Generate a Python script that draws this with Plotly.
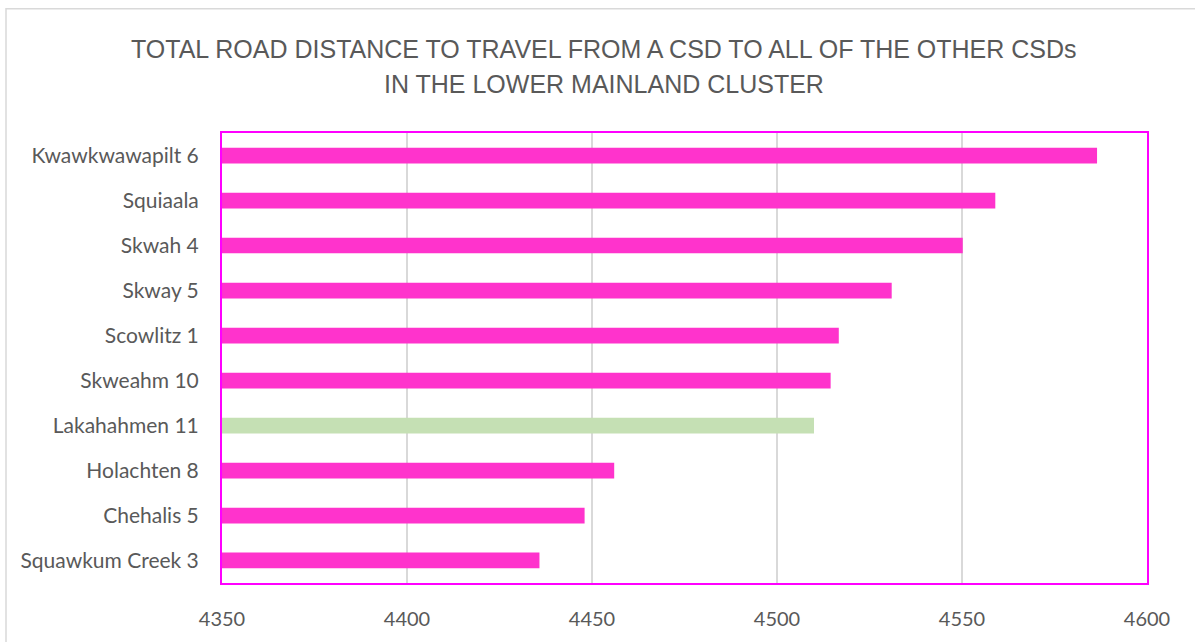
import plotly.graph_objects as go

categories = ["Kwawkwawapilt 6", "Squiaala", "Skwah 4", "Skway 5", "Scowlitz 1",
              "Skweahm 10", "Lakahahmen 11", "Holachten 8", "Chehalis 5", "Squawkum Creek 3"]
values = [4586.5, 4559, 4550.2, 4531, 4516.7, 4514.5, 4510, 4456, 4448, 4435.8]
highlight = "Lakahahmen 11"
x_ticks = [4350, 4400, 4450, 4500, 4550, 4600]

PINK = "#ff33cc"
GREEN = "#c5e0b4"
colors = [GREEN if c == highlight else PINK for c in categories]

W, H = 1195, 642
L, R, T, B = 222, 48, 133, 53
pw, ph = W - L - R, H - T - B

def px_x(p):
    return (p - L) / pw

def px_y(p):
    return (H - B - p) / ph

fig = go.Figure(go.Bar(
    y=categories, x=values, orientation="h",
    marker=dict(color=colors, line=dict(width=0)),
    base=0,
))

fig.update_layout(
    width=W, height=H,
    margin=dict(l=L, r=R, t=T, b=B, pad=0),
    paper_bgcolor="white", plot_bgcolor="white",
    bargap=0.65,
    showlegend=False,
    font=dict(family="Lato, Carlito, sans-serif", color="#595959", size=18),
)
fig.update_xaxes(
    range=[4350, 4600], tickvals=x_ticks, ticktext=[str(v) for v in x_ticks],
    showgrid=True, gridcolor="#d9d9d9", gridwidth=1.5,
    showline=True, mirror=True, linecolor="#ff00ff", linewidth=2,
    zeroline=False, ticks="", ticklabelstandoff=17,
    tickfont=dict(size=20, color="#595959"),
)
fig.update_yaxes(
    autorange="reversed",
    showline=True, mirror=True, linecolor="#ff00ff", linewidth=2,
    showgrid=False, ticks="", ticklabelstandoff=17,
    tickfont=dict(size=21, color="#595959"),
)

title_font = dict(family="Liberation Sans Narrow, Arial Narrow, sans-serif", size=25, color="#595959")
fig.add_annotation(text="TOTAL ROAD DISTANCE TO TRAVEL FROM A CSD TO ALL OF THE OTHER CSDs",
                   xref="paper", yref="paper", x=px_x(604), y=px_y(48),
                   xanchor="center", yanchor="middle", showarrow=False, font=title_font)
fig.add_annotation(text="IN THE LOWER MAINLAND CLUSTER",
                   xref="paper", yref="paper", x=px_x(604), y=px_y(83),
                   xanchor="center", yanchor="middle", showarrow=False, font=title_font)

fig.add_shape(type="rect", xref="paper", yref="paper",
              x0=px_x(6), x1=px_x(1220), y0=px_y(670), y1=px_y(7),
              line=dict(color="#d9d9d9", width=1.5), fillcolor="rgba(0,0,0,0)", layer="below")

fig.write_html("out.html")
